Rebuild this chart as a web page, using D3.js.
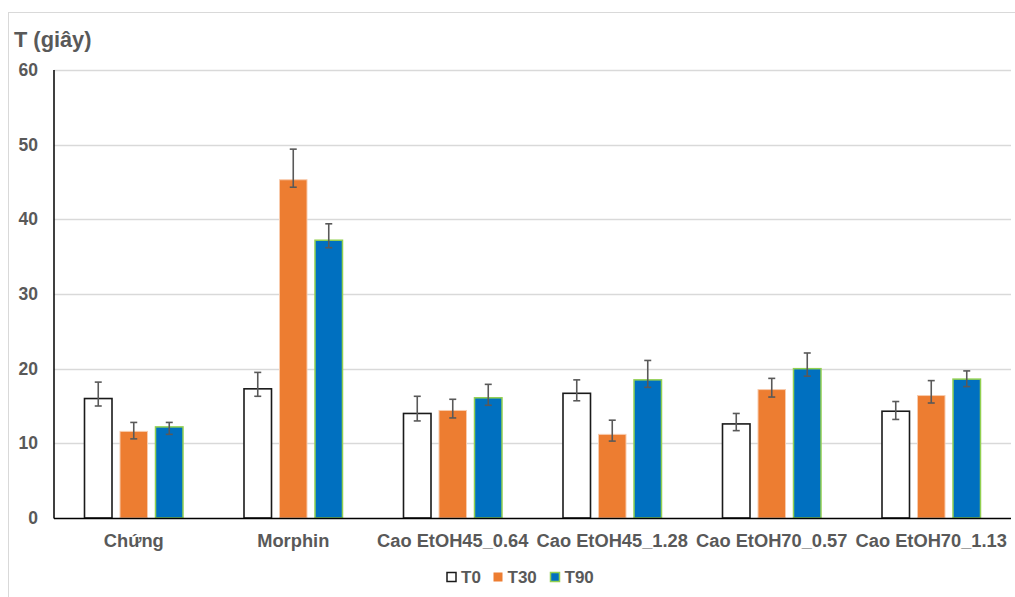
<!DOCTYPE html>
<html><head><meta charset="utf-8">
<script src="https://cdn.jsdelivr.net/npm/d3@7"></script>
<style>body{margin:0;background:#fff;}svg{display:block;font-family:"Liberation Sans",Arial,sans-serif;}</style>
</head><body>
<svg id="c" width="1015" height="597"></svg>
<script>
const categories = ["Chứng","Morphin","Cao EtOH45_0.64","Cao EtOH45_1.28","Cao EtOH70_0.57","Cao EtOH70_1.13"];
const seriesNames = ["T0","T30","T90"];
const T0  = [16.0, 17.3, 14.0, 16.7, 12.6, 14.3];
const T30 = [11.6, 45.3, 14.4, 11.2, 17.2, 16.4];
const T90 = [12.2, 37.2, 16.1, 18.5, 20.0, 18.6];
const T0errPlus  = [2.2, 2.2, 2.3, 1.8, 1.4, 1.3];
const T30errPlus = [1.2, 4.1, 1.5, 1.9, 1.5, 2.0];
const T90errPlus = [0.6, 2.2, 1.8, 2.6, 2.1, 1.1];
const T0errMinus  = [1.0, 1.0, 1.0, 1.0, 0.9, 1.1];
const T30errMinus = [1.0, 1.0, 1.0, 0.9, 1.0, 1.0];
const T90errMinus = [1.0, 1.0, 1.0, 1.0, 1.0, 1.0];
const yTicks = [0,10,20,30,40,50,60];

const series = [
  {name:"T0", values:T0, ep:T0errPlus, em:T0errMinus, fill:"#ffffff", stroke:"#1a1a1a", sw:1.6},
  {name:"T30", values:T30, ep:T30errPlus, em:T30errMinus, fill:"#ED7D31", stroke:"#F8CBAD", sw:1},
  {name:"T90", values:T90, ep:T90errPlus, em:T90errMinus, fill:"#0070C0", stroke:"#92D050", sw:1.5}
];

const svg = d3.select("#c");
const mL = 54, mR = 1011, mT = 70, mB = 518;

// outer border
svg.append("rect").attr("x",8.5).attr("y",12.5).attr("width",1020).attr("height",600)
  .attr("fill","none").attr("stroke","#d9d9d9").attr("stroke-width",1);

const y = d3.scaleLinear().domain([0,60]).range([mB, mT]);
const x0 = d3.scaleBand().domain(categories).range([mL, mR]).paddingInner(0).paddingOuter(0);
const step = 35.5, bw = 27.5;
const x1 = d3.scaleLinear().domain([0,2]).range([-step, step]);

// gridlines
svg.append("g").selectAll("line").data(yTicks.filter(d=>d>0)).join("line")
  .attr("x1",mL).attr("x2",mR).attr("y1",d=>Math.round(y(d))+0.5).attr("y2",d=>Math.round(y(d))+0.5)
  .attr("stroke","#d9d9d9").attr("stroke-width",1.3);

// y axis labels
const yAxis = d3.axisLeft(y).tickValues(yTicks).tickSize(0).tickPadding(16);
const ga = svg.append("g").attr("transform",`translate(${mL},0)`).call(yAxis);
ga.select(".domain").remove();
ga.selectAll("text").attr("font-size",17.5).attr("font-weight","bold").attr("fill","#595959")
  .attr("font-family","Liberation Sans, Arial, sans-serif");

// bars
series.forEach((s,si)=>{
  const g = svg.append("g");
  g.selectAll("rect").data(categories).join("rect")
    .attr("x",(c)=>x0(c)+x0.bandwidth()/2 + x1(si) - bw/2)
    .attr("y",(c,i)=>y(s.values[i]))
    .attr("width",bw)
    .attr("height",(c,i)=>mB - y(s.values[i]))
    .attr("fill",s.fill).attr("stroke",s.stroke).attr("stroke-width",s.sw);
});

// error bars
series.forEach((s,si)=>{
  const g = svg.append("g").attr("stroke","#595959").attr("stroke-width",1.6);
  categories.forEach((c,i)=>{
    const cx = x0(c)+x0.bandwidth()/2 + x1(si);
    const yt = y(s.values[i]+s.ep[i]), yb = y(s.values[i]-s.em[i]);
    g.append("line").attr("x1",cx).attr("x2",cx).attr("y1",yt).attr("y2",yb);
    g.append("line").attr("x1",cx-3.5).attr("x2",cx+3.5).attr("y1",yt).attr("y2",yt);
    g.append("line").attr("x1",cx-3.5).attr("x2",cx+3.5).attr("y1",yb).attr("y2",yb);
  });
});

// axes lines
svg.append("line").attr("x1",mL).attr("x2",mL).attr("y1",mT).attr("y2",mB+0.5)
  .attr("stroke","#000").attr("stroke-width",1.5);
svg.append("line").attr("x1",mL).attr("x2",mR).attr("y1",mB+0.5).attr("y2",mB+0.5)
  .attr("stroke","#000").attr("stroke-width",1.5);

// x labels
const xAxis = d3.axisBottom(x0).tickSize(0).tickPadding(16);
const gx = svg.append("g").attr("transform",`translate(0,${mB})`).call(xAxis);
gx.select(".domain").remove();
gx.selectAll("text").attr("font-size",18.3).attr("font-weight","bold").attr("fill","#595959")
  .attr("font-family","Liberation Sans, Arial, sans-serif");

// title
svg.append("text").attr("x",14).attr("y",47).text("T (giây)")
  .attr("font-size",21.8).attr("font-weight","bold").attr("fill","#595959");

// legend
const legX = [447, 493.5, 550.5];
const lg = svg.append("g");
series.forEach((s,si)=>{
  lg.append("rect").attr("x",legX[si]).attr("y",572.5).attr("width",9).attr("height",9)
    .attr("fill",s.fill).attr("stroke",s.stroke).attr("stroke-width",s.name==="T30"?0:1.5);
  lg.append("text").attr("x",legX[si]+14).attr("y",583).text(s.name)
    .attr("font-size",17).attr("font-weight","bold").attr("fill","#595959");
});
</script>
</body></html>
